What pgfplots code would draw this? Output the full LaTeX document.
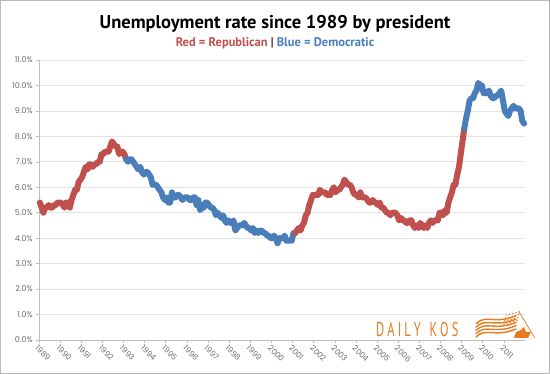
\documentclass[border=0pt]{standalone}
\usepackage{pgfplots}
\pgfplotsset{compat=1.18}
\usepackage{pgfplotstable}
\usepackage{fontspec}
\setmainfont{PT Sans}
\newfontfamily\tickfont{Poppins}
\definecolor{rep}{RGB}{192,80,77}
\definecolor{dem}{RGB}{74,126,187}
\definecolor{kos}{RGB}{232,122,30}
\definecolor{ticktext}{RGB}{110,110,110}

% Monthly unemployment rate (%), Jan 1989 - Dec 2011
% Bush (Jan 1989 - Feb 1993)
\pgfplotstableread[row sep=\\]{u\\
5.4\\5.2\\5.0\\5.2\\5.2\\5.3\\5.2\\5.2\\5.3\\5.3\\5.4\\5.4\\
5.4\\5.3\\5.2\\5.4\\5.4\\5.2\\5.5\\5.7\\5.9\\5.9\\6.2\\6.3\\
6.4\\6.6\\6.8\\6.7\\6.9\\6.9\\6.8\\6.9\\6.9\\7.0\\7.0\\7.3\\
7.3\\7.4\\7.4\\7.4\\7.6\\7.8\\7.7\\7.6\\7.6\\7.3\\7.4\\7.4\\
7.3\\7.1\\
}\bushone
% Clinton (Feb 1993 - Feb 2001)
\pgfplotstableread[row sep=\\]{u\\
7.1\\7.0\\7.1\\7.1\\7.0\\6.9\\6.8\\6.7\\6.8\\6.6\\6.5\\
6.6\\6.6\\6.5\\6.4\\6.1\\6.1\\6.1\\6.0\\5.9\\5.8\\5.6\\5.5\\
5.6\\5.4\\5.4\\5.8\\5.6\\5.6\\5.7\\5.7\\5.6\\5.5\\5.6\\5.6\\
5.6\\5.5\\5.5\\5.6\\5.6\\5.3\\5.5\\5.1\\5.2\\5.2\\5.4\\5.4\\
5.3\\5.2\\5.2\\5.1\\4.9\\5.0\\4.9\\4.8\\4.9\\4.7\\4.6\\4.7\\
4.6\\4.6\\4.7\\4.3\\4.4\\4.5\\4.5\\4.5\\4.6\\4.5\\4.4\\4.4\\
4.3\\4.4\\4.2\\4.3\\4.2\\4.3\\4.3\\4.2\\4.2\\4.1\\4.1\\4.0\\
4.0\\4.1\\4.0\\3.8\\4.0\\4.0\\4.0\\4.1\\3.9\\3.9\\3.9\\3.9\\
4.2\\4.2\\
}\clinton
% Bush (Feb 2001 - Feb 2009)
\pgfplotstableread[row sep=\\]{u\\
4.2\\4.3\\4.4\\4.3\\4.5\\4.6\\4.9\\5.0\\5.3\\5.5\\5.7\\
5.7\\5.7\\5.7\\5.9\\5.8\\5.8\\5.8\\5.7\\5.7\\5.7\\5.9\\6.0\\
5.8\\5.9\\5.9\\6.0\\6.1\\6.3\\6.2\\6.1\\6.1\\6.0\\5.8\\5.7\\
5.7\\5.6\\5.8\\5.6\\5.6\\5.6\\5.5\\5.4\\5.4\\5.5\\5.4\\5.4\\
5.3\\5.4\\5.2\\5.2\\5.1\\5.0\\5.0\\4.9\\5.0\\5.0\\5.0\\4.9\\
4.7\\4.8\\4.7\\4.7\\4.6\\4.6\\4.7\\4.7\\4.5\\4.4\\4.5\\4.4\\
4.6\\4.5\\4.4\\4.5\\4.4\\4.6\\4.7\\4.6\\4.7\\4.7\\4.7\\5.0\\
5.0\\4.9\\5.1\\5.0\\5.4\\5.6\\5.8\\6.1\\6.1\\6.5\\6.8\\7.3\\
7.8\\8.3\\
}\bushtwo
% Obama (Feb 2009 - Dec 2011)
\pgfplotstableread[row sep=\\]{u\\
8.3\\8.7\\9.0\\9.4\\9.5\\9.5\\9.7\\9.8\\10.1\\10.0\\10.0\\
9.7\\9.7\\9.7\\9.8\\9.6\\9.5\\9.5\\9.6\\9.6\\9.7\\9.8\\9.4\\
9.0\\8.9\\8.8\\9.0\\9.1\\9.2\\9.1\\9.1\\9.1\\9.0\\8.6\\8.5\\
}\obama

\begin{document}
\begin{tikzpicture}[x=1pt,y=1pt]
\useasboundingbox (0,0) rectangle (550,374);
\fill[white] (0,0) rectangle (550,374);
\draw[gray!55, line width=1.2pt] (0.6,0.6) rectangle (549.4,373.4);

\node[anchor=base, font=\fontsize{18.5}{22}\selectfont\bfseries] at (275,345) {Unemployment rate since 1989 by president};
\node[anchor=base, font=\fontsize{12.5}{14}\selectfont\bfseries] at (275,327)
  {\textcolor{rep}{Red = Republican} \textcolor{black!75}{|} \textcolor{dem}{Blue = Democratic}};

\begin{axis}[
  at={(39pt,34pt)}, anchor=south west,
  scale only axis, width=486pt, height=280pt,
  xmin=0, xmax=276, ymin=0, ymax=11,
  axis lines*=left,
  axis line style={gray!50, line width=0.8pt},
  xtick={0,12,...,264},
  xticklabels={1989,1990,1991,1992,1993,1994,1995,1996,1997,1998,1999,2000,2001,2002,2003,2004,2005,2006,2007,2008,2009,2010,2011},
  ytick={0,1,...,11},
  yticklabel={\pgfmathprintnumber[fixed,fixed zerofill,precision=1]{\tick}\%},
  /pgf/number format/assume math mode=true,
  ymajorgrids,
  grid style={gray!22, line width=0.8pt},
  tick style={gray!50, line width=0.6pt},
  tick align=outside, major tick length=3pt,
  xticklabel style={font=\tickfont\fontsize{7.8}{9}\selectfont, text=ticktext, rotate=-45, anchor=north west, inner sep=0.3pt, xshift=0.8pt, yshift=-0.8pt},
  yticklabel style={font=\tickfont\fontsize{8}{9}\selectfont, text=ticktext, anchor=east, inner sep=3pt},
  clip=false,
  every axis plot/.append style={line width=6pt, line cap=round, line join=round, no marks},
]
\addplot[rep] table[x expr=\coordindex+0.5, y=u] {\bushone};
\addplot[dem] table[x expr=\coordindex+49.5, y=u] {\clinton};
\addplot[rep] table[x expr=\coordindex+145.5, y=u] {\bushtwo};
\addplot[dem] table[x expr=\coordindex+241.5, y=u] {\obama};
\end{axis}

% Daily Kos logo
\node[anchor=base west, inner sep=0pt, text=kos, font=\fontsize{20}{20}\selectfont] at (376,37)
  {\scalebox{0.62}[1]{D\hspace{5pt}A\hspace{5pt}I\hspace{5pt}L\hspace{5pt}Y\hspace{14pt}K\hspace{5pt}O\hspace{5pt}S}};
% waving flag
\foreach \i in {0,1,2,3,4}{
  \draw[kos, line width=1.4pt, line cap=round] (476,{37+3.3*\i}) .. controls (486,{47+3.3*\i}) and (494,{36+3.3*\i}) .. (516,{45+3.3*\i});
}
\foreach \a in {0,...,4}{
  \foreach \b in {0,...,3}{
    \fill[kos] ({504+3.2*\a+0.8*\b},{50+3*\b+0.8*\a}) circle (0.8pt);
  }
}
\draw[kos, line width=0.7pt] (519,62) -- (535,36);
\fill[kos] (514,36) -- (516,42) -- (521,44) -- (524,47) -- (526,42) -- (531,42) -- (528,36) -- cycle;
\end{tikzpicture}
\end{document}
